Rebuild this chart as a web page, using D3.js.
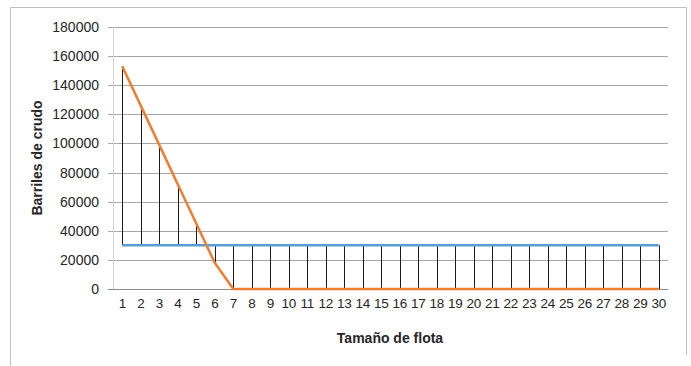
<!DOCTYPE html>
<html><head><meta charset="utf-8">
<script src="https://cdn.jsdelivr.net/npm/d3@7"></script>
<style>body{margin:0;background:#fff}svg{display:block}text{font-family:"Liberation Sans",Arial,sans-serif;fill:#262626}</style>
</head><body><svg id="c" width="691" height="366"></svg>
<script>
const categories = d3.range(1, 31).map(String);
const produccion = [153000,126000,99000,72000,45000,18000,0,0,0,0,0,0,0,0,0,0,0,0,0,0,0,0,0,0,0,0,0,0,0,0];
const demanda = categories.map(() => 30000);
const yTicks = [0,20000,40000,60000,80000,100000,120000,140000,160000,180000];

const svg = d3.select("#c");
// frame
svg.append("path").attr("d","M10.5,366 L10.5,7.5 L686.5,7.5 L686.5,355").attr("fill","none").attr("stroke","#bfbfbf");

const m = {l:113, r:668, t:27, b:289};
const x = d3.scaleBand().domain(categories).range([m.l, m.r]);
const y = d3.scaleLinear().domain([0,180000]).range([m.b, m.t]);
const cx = c => x(c) + x.bandwidth()/2;

// gridlines
svg.append("g").selectAll("line").data(yTicks).join("line")
  .attr("x1", m.l-5).attr("x2", m.r)
  .attr("y1", d => Math.round(y(d))+0.5).attr("y2", d => Math.round(y(d))+0.5)
  .attr("stroke", d => d===0 ? "#8c8c8c" : "#a6a6a6").attr("stroke-width",1);
// y axis line
svg.append("line").attr("x1",m.l+0.5).attr("x2",m.l+0.5).attr("y1",m.t).attr("y2",m.b)
  .attr("stroke","#d0d0d0");
// y labels
svg.append("g").selectAll("text").data(yTicks).join("text")
  .attr("x", 99).attr("y", d => y(d)+5).attr("text-anchor","end")
  .style("font-size","14px").text(d => d);
// x labels
svg.append("g").selectAll("text").data(categories).join("text")
  .attr("x", d => cx(d)).attr("y", 308).attr("text-anchor","middle")
  .style("font-size","13.5px").style("letter-spacing","-0.3px").text(d => d);

// drop lines
svg.append("g").selectAll("line").data(categories).join("line")
  .attr("x1", d => Math.round(cx(d))+0.5).attr("x2", d => Math.round(cx(d))+0.5)
  .attr("y1", (d,i) => y(demanda[i])).attr("y2", (d,i) => y(produccion[i]))
  .attr("stroke","#1a1a1a").attr("stroke-width",1);

const line = d3.line().x((d,i) => cx(categories[i])).y(d => y(d));
svg.append("path").datum(demanda).attr("d", line).attr("fill","none")
  .attr("stroke","#5B9BD5").attr("stroke-width",2.5);
svg.append("path").datum(produccion).attr("d", line).attr("fill","none")
  .attr("stroke","#ED7D31").attr("stroke-width",2.5).attr("stroke-linejoin","round");

// titles
svg.append("text").attr("transform","translate(42,158) rotate(-90)").attr("text-anchor","middle")
  .style("font-size","14px").style("font-weight","bold").text("Barriles de crudo");
svg.append("text").attr("x",390).attr("y",343).attr("text-anchor","middle")
  .style("font-size","14px").style("font-weight","bold").text("Tamaño de flota");
</script></body></html>
